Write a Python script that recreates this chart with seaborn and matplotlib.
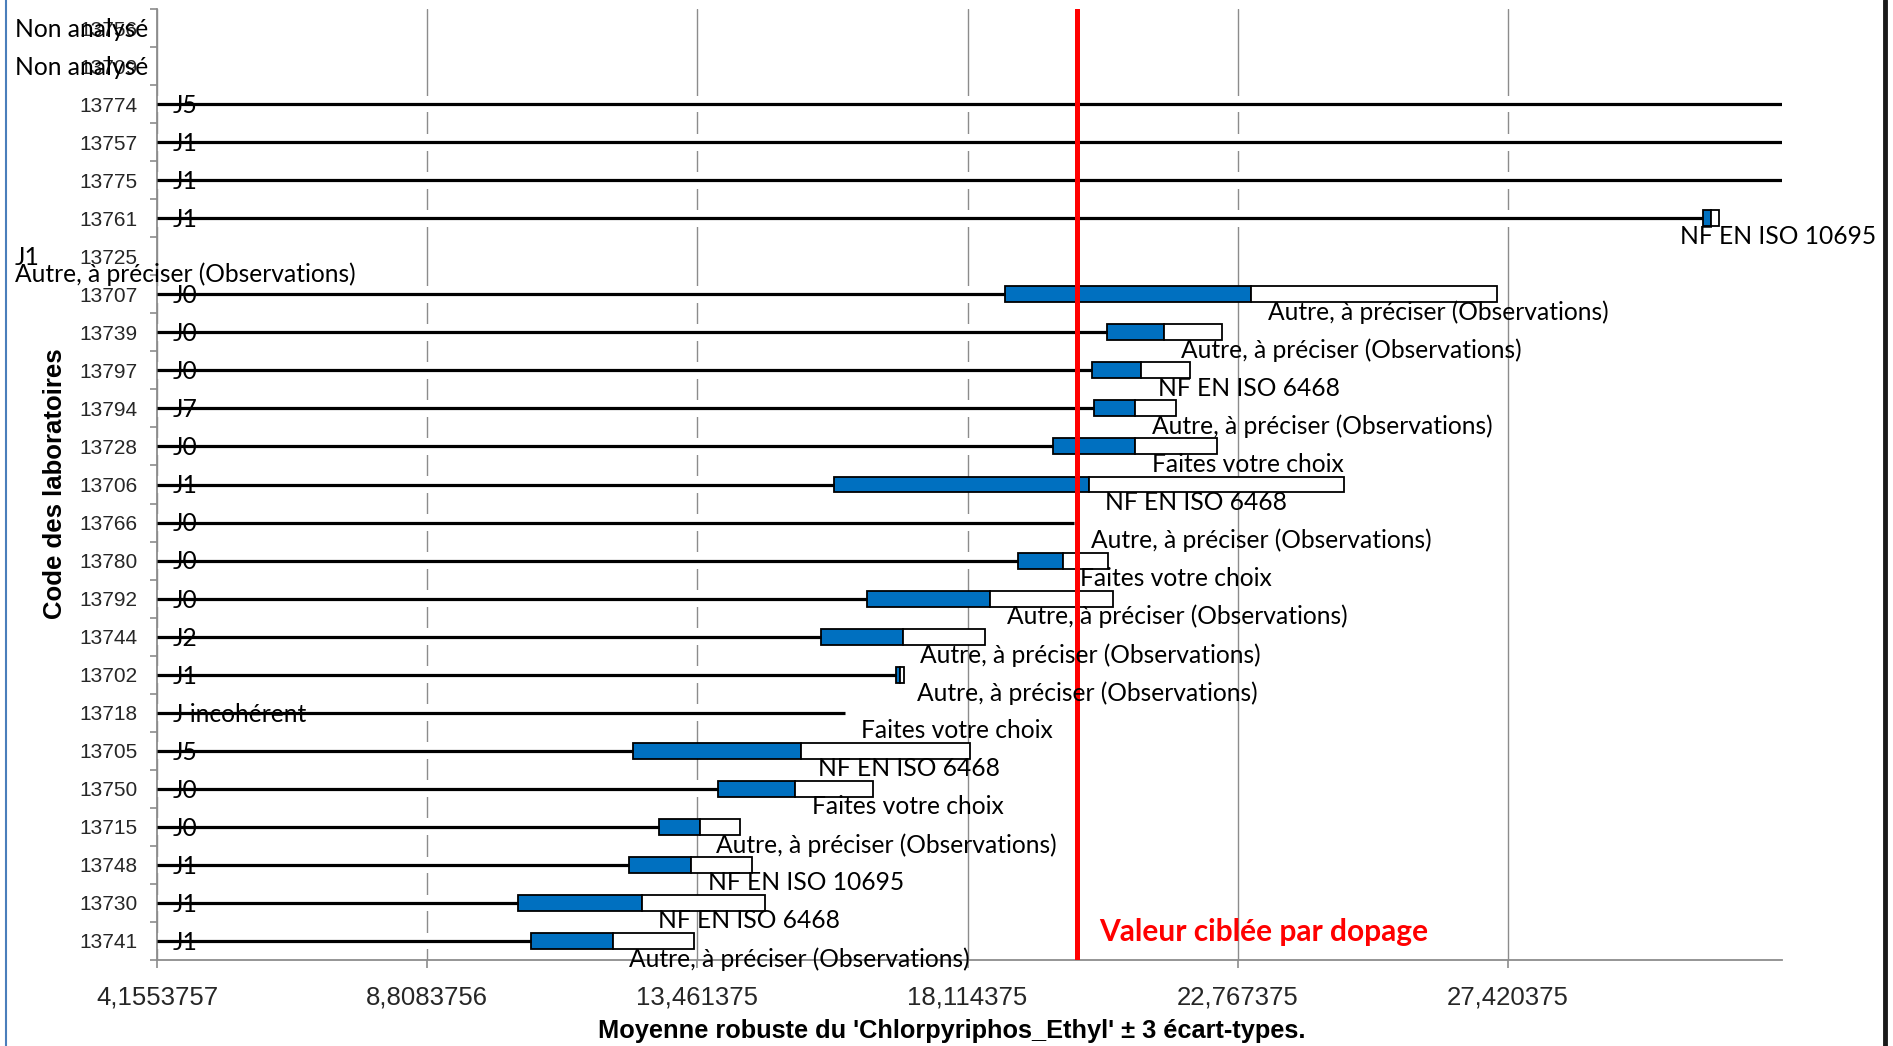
import numpy as np
import pandas as pd
import matplotlib
matplotlib.use("Agg")
import matplotlib.pyplot as plt
import matplotlib.transforms as mtransforms
from matplotlib.lines import Line2D
import seaborn as sns

# Laboratory codes, top to bottom
codes = ["13756", "13709", "13774", "13757", "13775", "13761", "13725", "13707",
         "13739", "13797", "13794", "13728", "13706", "13766", "13780", "13792",
         "13744", "13702", "13718", "13705", "13750", "13715", "13748", "13730",
         "13741"]

# Day of analysis
j_labels = ["Non analysé", "Non analysé", "J5", "J1", "J1", "J1", "J1", "J0",
            "J0", "J0", "J7", "J0", "J1", "J0", "J0", "J0",
            "J2", "J1", "J incohérent", "J5", "J0", "J0", "J1", "J1",
            "J1"]

# Analytical method
methods = ["", "", "", "", "", "NF EN ISO 10695", "Autre, à préciser (Observations)",
           "Autre, à préciser (Observations)", "Autre, à préciser (Observations)",
           "NF EN ISO 6468", "Autre, à préciser (Observations)", "Faites votre choix",
           "NF EN ISO 6468", "Autre, à préciser (Observations)", "Faites votre choix",
           "Autre, à préciser (Observations)", "Autre, à préciser (Observations)",
           "Autre, à préciser (Observations)", "Faites votre choix", "NF EN ISO 6468",
           "Faites votre choix", "Autre, à préciser (Observations)", "NF EN ISO 10695",
           "NF EN ISO 6468", "Autre, à préciser (Observations)"]

# Robust mean per laboratory
means = [np.nan, np.nan, 33.0, 33.0, 33.0, 30.92, np.nan, 23.0,
         21.5, 21.1, 21.0, 21.0, 20.2, 19.95, 19.76, 18.5,
         17.0, 16.95, 16.0, 15.25, 15.15, 13.5, 13.35, 12.5,
         12.0]

# Three standard deviations
spreads = [np.nan, np.nan, np.nan, np.nan, np.nan, 0.138, np.nan, 4.24,
           0.99, 0.85, 0.71, 1.41, 4.39, np.nan, 0.78, 2.12,
           1.41, 0.065, np.nan, 2.90, 1.34, 0.70, 1.06, 2.12,
           1.41]

target = 20.0
x_ticks = [4.1553757, 8.8083756, 13.461375, 18.114375, 22.767375, 27.420375]
x_tick_labels = ["4,1553757", "8,8083756", "13,461375", "18,114375", "22,767375", "27,420375"]
x_min, x_max = 4.1553757, 32.14

sns.set_theme(style="white")
plt.rcParams["font.family"] = ["Liberation Sans", "DejaVu Sans"]

GRAY = "#8c8c8c"
BLUE = "#0070C0"
LABEL_FONT = ["Lato", "DejaVu Sans"]
LABEL_SIZE = 17.7

df = pd.DataFrame({"code": codes, "mean": means, "spread": spreads,
                   "jour": j_labels, "methode": methods})
df["low"] = df["mean"] - df["spread"].fillna(0)
df["pos"] = np.arange(len(df))

fig = plt.figure(figsize=(18.93, 10.46), dpi=100)
ax = fig.add_axes([157 / 1893, 86 / 1046, 1625 / 1893, 951 / 1046])

# White band from the axis to the lower bound (hides the grid behind each row)
valid = df[df["low"].notna()].copy()
valid["mask_w"] = valid["low"] - x_min
sns.barplot(data=valid, y="code", x="mask_w", order=codes, orient="h",
            color="white", saturation=1, errorbar=None, width=0.44,
            left=x_min, linewidth=0, ax=ax, zorder=2)

# Lower half of the interval (blue) and upper half (white)
bars = df[df["spread"] > 0].copy()
sns.barplot(data=bars, y="code", x="spread", order=codes, orient="h",
            color=BLUE, saturation=1, errorbar=None, width=0.42,
            left=bars["low"].to_numpy(), edgecolor="black", linewidth=1.3,
            ax=ax, zorder=3)
sns.barplot(data=bars, y="code", x="spread", order=codes, orient="h",
            color="white", saturation=1, errorbar=None, width=0.42,
            left=bars["mean"].to_numpy(), edgecolor="black", linewidth=1.3,
            ax=ax, zorder=3)

# Leader line from the axis to the start of the interval
ax.hlines(valid["pos"], x_min, valid["low"], color="black", lw=2.3, zorder=4)

# Target value
ax.axvline(target, color="#FF0000", lw=3.6, zorder=6)

ax.set_xlim(x_min, x_max)
ax.set_ylim(len(codes) - 0.5, -0.5)
ax.set_xticks(x_ticks)
ax.set_xticklabels(x_tick_labels)
ax.grid(axis="x", color=GRAY, lw=1.0)
ax.grid(axis="y", visible=False)
ax.set_axisbelow(True)
ax.set_xlabel("")
ax.set_ylabel("")

for side in ("top", "right"):
    ax.spines[side].set_visible(False)
for side in ("left", "bottom"):
    ax.spines[side].set_color(GRAY)
    ax.spines[side].set_linewidth(1.3)

ax.set_yticks(np.arange(len(codes)))
ax.set_yticklabels(codes)
ax.set_yticks(np.arange(-0.5, len(codes), 1), minor=True)
ax.tick_params(axis="x", which="major", bottom=True, length=6, width=1.2,
               color=GRAY, labelsize=18.5, pad=12)
ax.tick_params(axis="y", which="major", left=False, length=0, labelsize=15, pad=14)
ax.tick_params(axis="y", which="minor", left=True, length=5, width=1.2, color=GRAY)

# Day labels
trans_left = mtransforms.blended_transform_factory(fig.transFigure, ax.transData)
for _, r in df.iterrows():
    if np.isfinite(r["low"]):
        ax.annotate(r["jour"], xy=(x_min, r["pos"]), xytext=(11.5, -1),
                    textcoords="offset points", ha="left", va="center",
                    fontfamily=LABEL_FONT, fontsize=LABEL_SIZE, color="black",
                    annotation_clip=False, zorder=3.5)
    else:
        ax.annotate(r["jour"], xy=(15 / 1893, r["pos"]), xycoords=trans_left,
                    xytext=(0, -1), textcoords="offset points",
                    ha="left", va="center", fontfamily=LABEL_FONT,
                    fontsize=LABEL_SIZE, color="black", annotation_clip=False)

# Method labels
method_anns = []
for _, r in df.iterrows():
    if not r["methode"]:
        continue
    if np.isfinite(r["mean"]):
        if r["mean"] > x_max:
            continue
        a = ax.annotate(r["methode"], xy=(r["mean"], r["pos"]), xytext=(12, -13),
                        textcoords="offset points", ha="left", va="center",
                        fontfamily=LABEL_FONT, fontsize=LABEL_SIZE, color="black",
                        annotation_clip=False, zorder=7)
        method_anns.append(a)
    else:
        ax.annotate(r["methode"], xy=(15 / 1893, r["pos"]), xycoords=trans_left,
                    xytext=(0, -13), textcoords="offset points", ha="left",
                    va="center", fontfamily=LABEL_FONT, fontsize=LABEL_SIZE,
                    color="black", annotation_clip=False, zorder=7)

# Target label
trans_target = mtransforms.blended_transform_factory(ax.transData, ax.transAxes)
ax.annotate("Valeur ciblée par dopage", xy=(target, 28 / 951), xycoords=trans_target,
            xytext=(16, 0), textcoords="offset points", ha="left", va="center",
            fontfamily=LABEL_FONT, fontsize=21.5, fontweight="bold", color="#FF0000",
            annotation_clip=False, zorder=7)

# Axis titles
fig.text(55 / 1893, 1 - 484 / 1046, "Code des laboratoires", rotation=90,
         ha="center", va="center", fontsize=18.5, fontweight="bold", color="black")
fig.text(952 / 1893, 1 - 1031 / 1046,
         "Moyenne robuste du 'Chlorpyriphos_Ethyl' ± 3 écart-types.",
         ha="center", va="center", fontsize=18.3, fontweight="bold", color="black")

# Chart frame
fig.add_artist(Line2D([6 / 1893, 6 / 1893], [0, 1], transform=fig.transFigure,
                      color="#4A7EBB", lw=1.5))
fig.add_artist(Line2D([1885 / 1893, 1885 / 1893], [0, 1], transform=fig.transFigure,
                      color="#1a1a1a", lw=3.5))

# Keep method labels inside the chart area
fig.canvas.draw()
right_limit = 1876
for a in method_anns:
    bb = a.get_window_extent()
    if bb.x1 > right_limit:
        dx = (bb.x1 - right_limit) * 72 / fig.dpi
        a.xyann = (a.xyann[0] - dx, a.xyann[1])

fig.savefig("out.png", dpi=100)
